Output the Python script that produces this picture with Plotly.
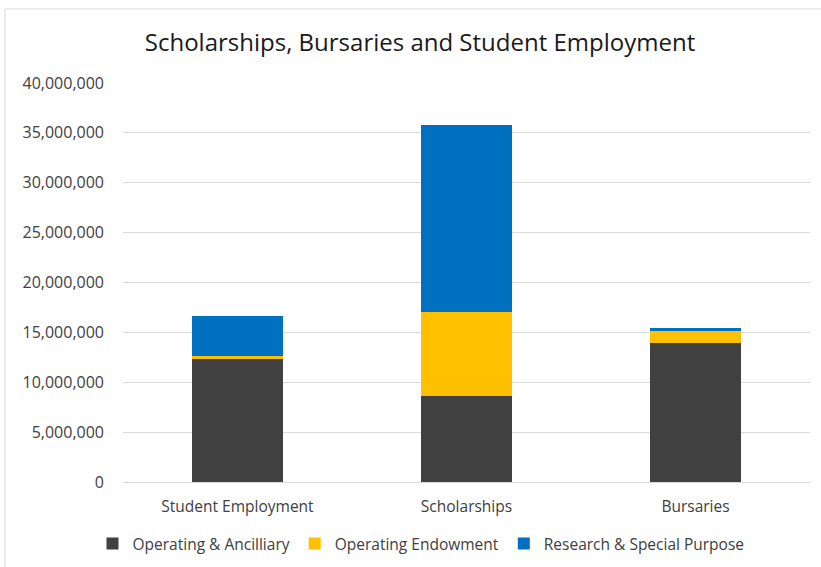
import plotly.graph_objects as go

categories = ["Student Employment", "Scholarships", "Bursaries"]
operating_ancillary = [12300000, 8600000, 13900000]
operating_endowment = [300000, 8400000, 1300000]
research_special = [4000000, 18800000, 200000]
y_ticks = [0, 5000000, 10000000, 15000000, 20000000, 25000000, 30000000, 35000000, 40000000]

series = [
    ("Operating & Ancilliary", operating_ancillary, "#404040"),
    ("Operating Endowment", operating_endowment, "#FFC000"),
    ("Research & Special Purpose", research_special, "#0070C0"),
]

font_family = "'Open Sans', 'Noto Sans', sans-serif"

fig = go.Figure()
for name, vals, color in series:
    fig.add_trace(go.Bar(
        x=categories, y=vals, name=name,
        marker=dict(color=color, line=dict(width=0)),
    ))

W, H = 821, 567
L, R, T, B = 123, 11, 83, 85
plot_w = W - L - R
plot_h = H - T - B

def px_x(p):
    return (p - L) / plot_w

def px_y(p):
    return (H - B - p) / plot_h

fig.update_layout(
    width=W, height=H,
    barmode="stack", bargap=0.6,
    margin=dict(l=L, r=R, t=T, b=B),
    paper_bgcolor="white", plot_bgcolor="white",
    font=dict(family=font_family, color="#404040", size=15),
    title=dict(
        text="Scholarships, Bursaries and Student Employment",
        x=420 / W, xanchor="center", xref="container",
        y=1 - 43 / H, yanchor="middle", yref="container",
        font=dict(size=24, color="#1a1a1a", family=font_family),
    ),
    xaxis=dict(
        showgrid=False, showline=True, linecolor="#d9d9d9", linewidth=1,
        ticks="", ticklabelstandoff=10,
        tickfont=dict(size=15.5, color="#404040"),
    ),
    yaxis=dict(
        range=[0, 40000000], tickvals=y_ticks, tickformat=",",
        showgrid=True, gridcolor="#d9d9d9", gridwidth=1,
        zeroline=False, showline=False, ticks="",
        ticklabelstandoff=18,
        tickfont=dict(size=16, color="#404040"),
    ),
    legend=dict(
        orientation="h", xref="container", yref="container",
        x=421 / W, xanchor="center", y=1 - 544 / H, yanchor="middle",
        font=dict(size=15.5, color="#404040"),
        traceorder="normal", itemwidth=30,
    ),
    shapes=[dict(
        type="rect", xref="paper", yref="paper",
        x0=px_x(5), x1=px_x(830), y0=px_y(580), y1=px_y(9),
        line=dict(color="#d9d9d9", width=1), layer="below",
    )],
)

fig.write_html("out.html")
